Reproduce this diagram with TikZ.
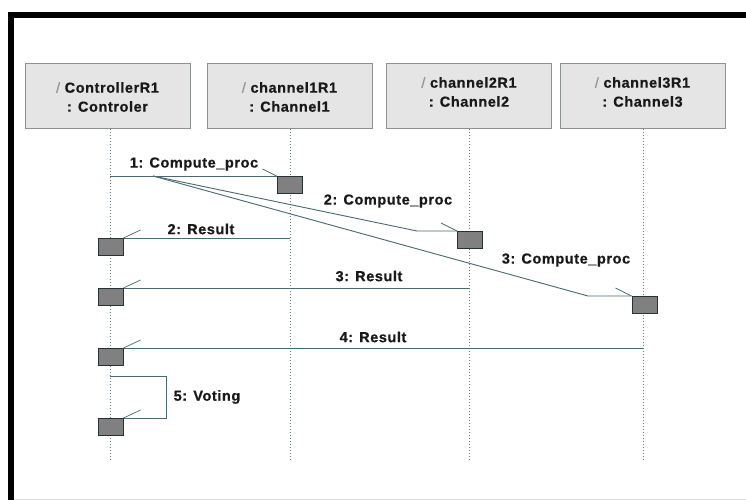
\documentclass[tikz,border=0pt]{standalone}
\usepackage{fontspec}
\setmainfont{Liberation Sans}
\newfontfamily\lblfont[LetterSpace=4,FakeBold=0.6]{Liberation Sans}
\definecolor{headfill}{RGB}{229,229,229}
\definecolor{headline}{RGB}{140,146,148}
\definecolor{actfill}{RGB}{128,128,128}
\definecolor{actline}{RGB}{38,50,52}
\definecolor{msgcol}{RGB}{72,106,112}
\definecolor{lifecol}{RGB}{105,125,135}
\definecolor{slashcol}{RGB}{150,150,150}
\begin{document}
\begin{tikzpicture}[x=1pt,y=-1pt,
  head/.style={draw=headline, fill=headfill, line width=1pt, minimum width=165,
    minimum height=65, inner sep=0, anchor=north},
  act/.style={draw=actline, fill=actfill, line width=1pt, minimum width=25,
    minimum height=17, inner sep=0, anchor=north},
  msg/.style={draw=msgcol, line width=0.9pt},
  tick/.style={draw=msgcol, line width=0.7pt},
  life/.style={draw=lifecol, line width=0.9pt, dash pattern=on 1.2pt off 1.8pt},
  lbl/.style={font=\lblfont\bfseries\fontsize{14.5}{16}\selectfont, text=black!90, inner sep=0}]
\useasboundingbox (0,0) rectangle (746,500);
\fill[white] (0,0) rectangle (746,500);

% outer frame
\draw[black, line width=5.5pt] (8,15) -- (746,15);
\draw[black, line width=6pt] (11,12.5) -- (11,500);
\draw[black!12, line width=0.8pt] (14,499) -- (746,499);

% lifeline heads
\node[head] (h1) at (107.5,63) {};
\node[head] (h2) at (289.5,63) {};
\node[head] (h3) at (469,63) {};
\node[head] (h4) at (642.5,63) {};
\node[lbl, align=center] (t1) at (107.5,97) {{\color{slashcol}\mdseries/} ControllerR1\\[3pt]: Controler};
\node[lbl, align=center] (t2) at (289.5,97) {{\color{slashcol}\mdseries/} channel1R1\\[3pt]: Channel1};
\node[lbl, align=center] (t3) at (469,92) {{\color{slashcol}\mdseries/} channel2R1\\[3pt]: Channel2};
\node[lbl, align=center] (t4) at (642.5,92) {{\color{slashcol}\mdseries/} channel3R1\\[3pt]: Channel3};

% lifelines
\coordinate (e1) at (110,460);
\coordinate (e2) at (290,460);
\coordinate (e3) at (469,460);
\coordinate (e4) at (643,460);
\draw[life] (h1.south -| e1) -- (e1);
\draw[life] (h2.south -| e2) -- (e2);
\draw[life] (h3.south -| e3) -- (e3);
\draw[life] (h4.south -| e4) -- (e4);

% activation boxes
\node[act] (a1) at (289.5,176) {};
\node[act] (a2) at (470,231) {};
\node[act] (a3) at (644.5,296) {};
\node[act] (r2) at (110.5,238) {};
\node[act] (r3) at (110.5,288) {};
\node[act] (r4) at (110.5,348) {};
\node[act] (r5) at (110.5,418) {};

% calls
\coordinate (s1) at (110,176);
\coordinate (fork) at (153,176);
\coordinate (k2) at (417,231);
\coordinate (k3) at (588,296);
\draw[msg] (s1) -- (a1.north west);
\draw[msg] (fork) -- (k2) -- (a2.north west);
\draw[msg] (fork) -- (k3) -- (a3.north west);
\draw[tick] (a1.north west) -- ++(-14,-7);
\draw[tick] (a2.north west) -- ++(-16,-8);
\draw[tick] (a3.north west) -- ++(-16,-8);

% replies
\coordinate (q2) at (290,238);
\coordinate (q3) at (469,288);
\coordinate (q4) at (643,348);
\draw[msg] (q2) -- (r2.north east);
\draw[msg] (q3) -- (r3.north east);
\draw[msg] (q4) -- (r4.north east);

% self call
\coordinate (v0) at (110,376);
\coordinate (v1) at (166,376);
\coordinate (v2) at (166,418);
\draw[msg] (v0) -- (v1) -- (v2) -- (r5.north east);

\foreach \r in {r2,r3,r4,r5}
  \draw[tick] (\r.north east) -- ++(17,-8);

% message labels
\node[lbl] (l1) at (194,164) {1: Compute\_proc};
\node[lbl] (l2) at (388,201) {2: Compute\_proc};
\node[lbl] (l3) at (566,260) {3: Compute\_proc};
\node[lbl] (l4) at (201,229) {2: Result};
\node[lbl] (l5) at (369,276) {3: Result};
\node[lbl] (l6) at (373,337) {4: Result};
\node[lbl] (l7) at (207,397) {5: Voting};
\end{tikzpicture}
\end{document}
